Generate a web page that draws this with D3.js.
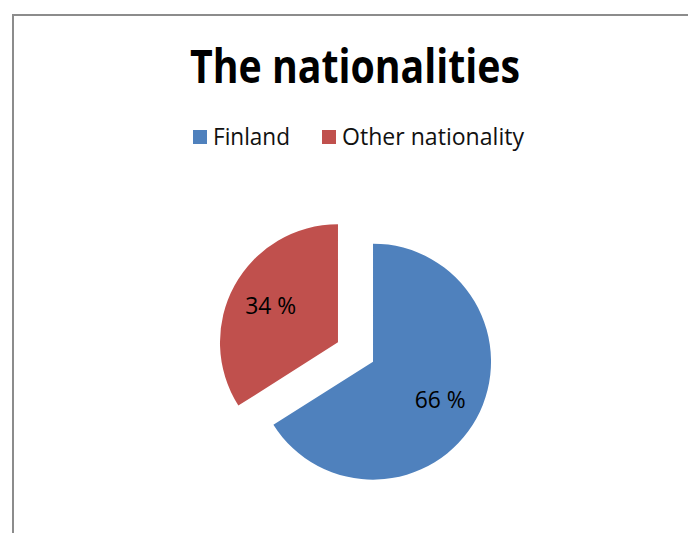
<html>
    <head>
        <style>
            body { margin: 0; background: #fff; }
            text { font-family: 'Open Sans', sans-serif; }
        </style>
        <script src="https://cdnjs.cloudflare.com/ajax/libs/d3/7.8.5/d3.min.js"></script>
    </head>
    <body>
        <script>
            const categories = ['Finland', 'Other nationality'];
            const shares = [66, 34];
            const colors = ['#4F81BD', '#C0504D'];
            const title = 'The nationalities';

            const width = 688;
            const height = 533;

            const svg = d3.select('body').append('svg')
                .attr('width', width)
                .attr('height', height);

            // chart frame, runs off the right and bottom edge
            svg.append('rect')
                .attr('x', 13).attr('y', 15)
                .attr('width', 700).attr('height', 560)
                .style('fill', 'none')
                .style('stroke', '#8c8c8c')
                .style('stroke-width', 2);

            svg.append('text')
                .attr('x', 355).attr('y', 83)
                .attr('text-anchor', 'middle')
                .attr('font-size', 46)
                .attr('font-weight', 'bold')
                .attr('textLength', 330)
                .attr('lengthAdjust', 'spacingAndGlyphs')
                .text(title);

            // legend
            const legendX = [193, 322];
            const legendW = [77, 182];
            const legend = svg.selectAll('.legend')
                .data(categories)
                .enter().append('g')
                .attr('class', 'legend')
                .attr('transform', (d, i) => `translate(${legendX[i]}, 130)`);
            legend.append('rect')
                .attr('width', 14).attr('height', 14)
                .style('fill', (d, i) => colors[i]);
            legend.append('text')
                .attr('x', 20).attr('y', 15)
                .attr('font-size', 24)
                .attr('textLength', (d, i) => legendW[i])
                .attr('lengthAdjust', 'spacingAndGlyphs')
                .style('fill', '#111')
                .text(d => d);

            // pie
            const cx = 355.5, cy = 352, r = 118, explode = 20;
            const pie = d3.pie().sort(null)(shares);
            const arc = d3.arc().innerRadius(0).outerRadius(r);
            const labelArc = d3.arc().innerRadius(r * 0.65).outerRadius(r * 0.65);

            const slices = svg.append('g')
                .attr('transform', `translate(${cx}, ${cy})`)
                .selectAll('.slice')
                .data(pie)
                .enter().append('g')
                .attr('class', 'slice')
                .attr('transform', d => {
                    const a = (d.startAngle + d.endAngle) / 2;
                    return `translate(${Math.sin(a) * explode}, ${-Math.cos(a) * explode})`;
                });

            slices.append('path')
                .attr('d', arc)
                .style('fill', (d, i) => colors[i]);

            slices.append('text')
                .attr('transform', d => `translate(${labelArc.centroid(d)})`)
                .attr('text-anchor', 'middle')
                .attr('dy', '0.38em')
                .attr('font-size', 23.5)
                .attr('textLength', 51)
                .attr('lengthAdjust', 'spacingAndGlyphs')
                .style('fill', '#000')
                .text(d => d.data + ' %');
        </script>
    </body>
</html>
